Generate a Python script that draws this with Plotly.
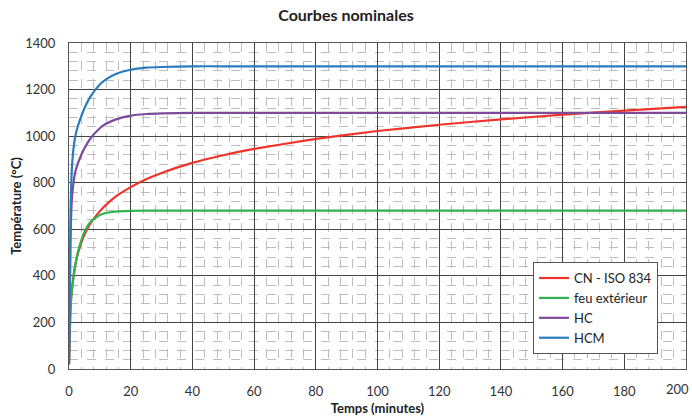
import plotly.graph_objects as go

# Time (minutes)
t = [0, 0.5, 1, 2, 3, 4, 5, 7, 10, 12, 15, 20, 25, 30, 40, 50, 60, 80, 100, 120, 140, 160, 180, 200]

# Temperatures (°C)
iso834 = [20, 261, 349, 445, 502, 544, 576, 626, 678, 705, 739, 781, 815, 842, 885, 918, 945, 988, 1022, 1049, 1072, 1092, 1110, 1126]
feu_ext = [20, 263, 346, 441, 506, 554, 588, 632, 661, 670, 676, 679, 680, 680, 680, 680, 680, 680, 680, 680, 680, 680, 680, 680]
hc = [20, 569, 743, 844, 887, 920, 948, 991, 1034, 1053, 1071, 1088, 1095, 1098, 1100, 1100, 1100, 1100, 1100, 1100, 1100, 1100, 1100, 1100]
hcm = [20, 670, 878, 997, 1048, 1086, 1120, 1171, 1222, 1244, 1266, 1285, 1294, 1297, 1300, 1300, 1300, 1300, 1300, 1300, 1300, 1300, 1300, 1300]

names = ["CN - ISO 834", "feu extérieur", "HC", "HCM"]
series = [iso834, feu_ext, hc, hcm]
colors = ["#F0332A", "#2DB24F", "#7E4A9C", "#2A7CC0"]

x_ticks = list(range(0, 201, 20))
y_ticks = list(range(0, 1401, 200))

FONT = "Lato, 'Open Sans', sans-serif"

fig = go.Figure()
for name, ys, c in zip(names, series, colors):
    fig.add_trace(go.Scatter(x=t, y=ys, name=name, mode="lines",
                             line=dict(color=c, width=2.2, shape="spline", smoothing=0.5)))

fig.update_layout(
    width=692, height=417,
    margin=dict(l=69, r=6, t=43, b=48),
    paper_bgcolor="white", plot_bgcolor="white",
    font=dict(family=FONT, size=13, color="#333333"),
    title=dict(text="<b>Courbes nominales</b>", x=0.5, xanchor="center", y=0.962, yanchor="middle",
               font=dict(family=FONT, size=16, color="#222222")),
    legend=dict(x=0.752, y=0.328, xanchor="left", yanchor="top",
                bgcolor="white", bordercolor="#555555", borderwidth=1,
                font=dict(family=FONT, size=13, color="#222222"),
                tracegroupgap=4, itemwidth=30),
    showlegend=True,
)

# label at the right end of the x axis (kept inside the page)
fig.add_annotation(x=x_ticks[-1], y=0, xref="x", yref="paper", text=str(x_ticks[-1]),
                   showarrow=False, yanchor="top", xanchor="right", xshift=5, yshift=-10,
                   font=dict(family=FONT, size=13, color="#333333"))

fig.update_xaxes(
    range=[0, 200], tickvals=x_ticks[:-1], ticktext=[str(v) for v in x_ticks[:-1]],
    showgrid=True, gridcolor="#444444", gridwidth=1,
    minor=dict(dtick=4, showgrid=True, gridcolor="#BDBDBD", griddash="dash", gridwidth=1),
    showline=True, linecolor="#555555", linewidth=1, mirror=True,
    ticks="", zeroline=False, ticklabelstandoff=10, automargin=False,
    title=dict(text="<b>Temps (minutes)</b>", standoff=6, font=dict(family=FONT, size=13, color="#222222")),
)
fig.update_yaxes(
    range=[0, 1400], tickvals=y_ticks, ticktext=[str(v) for v in y_ticks],
    showgrid=True, gridcolor="#444444", gridwidth=1,
    minor=dict(dtick=40, showgrid=True, gridcolor="#BDBDBD", griddash="dash", gridwidth=1),
    showline=True, linecolor="#555555", linewidth=1, mirror=True,
    ticks="", zeroline=False, ticklabelstandoff=10, automargin=False,
    title=dict(text="<b>Température (°C)</b>", standoff=0, font=dict(family=FONT, size=13, color="#222222")),
)

fig.write_html("out.html")
